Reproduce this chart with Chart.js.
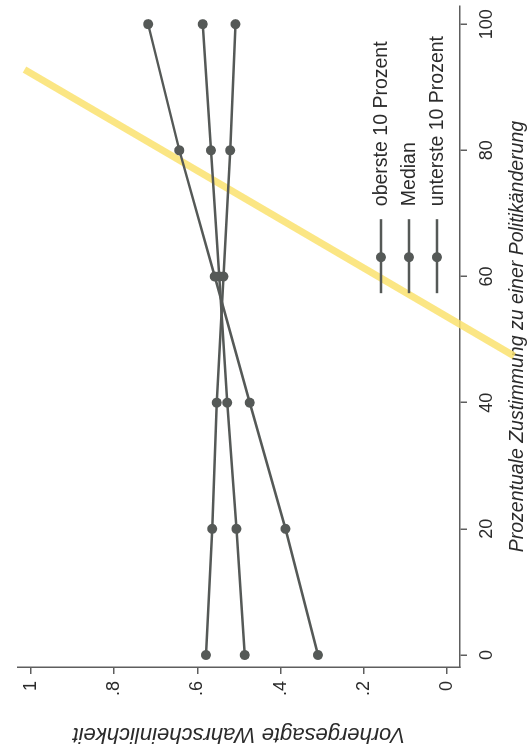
<!DOCTYPE html>
<html>
<head>
<meta charset="utf-8">
<title>Vorhergesagte Wahrscheinlichkeit</title>
<script src="https://cdn.jsdelivr.net/npm/chart.js@4.4.1/dist/chart.umd.min.js"></script>
<style>
  html, body { margin: 0; padding: 0; background: #fff; overflow: hidden; }
  /* the scanned page is turned a quarter to the left */
  #turn { position: absolute; left: 0; top: 0; width: 751px; height: 529px;
          transform-origin: 0 0; transform: translateY(751px) rotate(-90deg); }
</style>
</head>
<body>
<div id="turn"><canvas id="myChart" width="751" height="529"></canvas></div>
<script>
// data
var zustimmung = [0, 20, 40, 60, 80, 100];
var oberste    = [0.310, 0.388, 0.474, 0.558, 0.643, 0.718];
var median     = [0.486, 0.506, 0.528, 0.547, 0.567, 0.587];
var unterste   = [0.579, 0.564, 0.553, 0.537, 0.521, 0.508];
var serien     = ["oberste 10 Prozent", "Median", "unterste 10 Prozent"];
var xTicks     = [0, 20, 40, 60, 80, 100];
var yTicks     = [0, 0.2, 0.4, 0.6, 0.8, 1];
// yellow highlighter stroke on the scanned page
var markPct    = [92.8, 47.4];
var markProb   = [1.015, -0.161];

var grey = "#555957";
var axisGrey = "#5e5e5e";
var textGrey = "#2b2b2b";
var font = "'Liberation Sans', Arial, sans-serif";

function pts(xs, ys){
  return xs.map(function(x, i){ return {x: x, y: ys[i]}; });
}

function serie(label, values){
  return {
    label: label,
    data: pts(zustimmung, values),
    borderColor: grey,
    backgroundColor: grey,
    borderWidth: 2.5,
    pointRadius: 5,
    pointHoverRadius: 5,
    pointBorderWidth: 0
  };
}

//legend inside the plot, Stata style
var stataLegend = {
  id: "stataLegend",
  afterDraw: function(chart){
    var ctx = chart.ctx, a = chart.chartArea;
    ctx.save();
    chart.data.datasets.forEach(function(ds, i){
      if (ds.isMark) return;
      var y = a.bottom - 79 + i * 28;
      ctx.strokeStyle = ds.borderColor;
      ctx.lineWidth = ds.borderWidth;
      ctx.beginPath();
      ctx.moveTo(a.right - 287, y);
      ctx.lineTo(a.right - 213, y);
      ctx.stroke();
      ctx.fillStyle = ds.backgroundColor;
      ctx.beginPath();
      ctx.arc(a.right - 251, y, ds.pointRadius, 0, Math.PI * 2);
      ctx.fill();
      ctx.fillStyle = textGrey;
      ctx.font = "19.5px " + font;
      ctx.textAlign = "left";
      ctx.textBaseline = "middle";
      ctx.fillText(ds.label, a.right - 200, y + 1);
    });
    ctx.restore();
  }
};

var chartData = {
  datasets: [
    serie(serien[0], oberste),
    serie(serien[1], median),
    serie(serien[2], unterste),
    {
      label: "",
      isMark: true,
      data: pts(markPct, markProb),
      borderColor: "rgba(250, 226, 110, 0.85)",
      borderWidth: 7,
      pointRadius: 0,
      pointHoverRadius: 0,
      clip: false
    }
  ]
};

var ctx = document.getElementById("myChart").getContext("2d");
var myChart = new Chart(ctx, {
  type: "line",
  data: chartData,
  plugins: [stataLegend],
  options: {
    responsive: false,
    animation: false,
    events: [],
    layout: { padding: { top: 10, right: 5, left: 0, bottom: 0 } },
    plugins: { legend: { display: false }, tooltip: { enabled: false } },
    scales: {
      x: {
        type: "linear",
        min: -1.9,
        max: 102.85,
        afterBuildTicks: function(s){ s.ticks = xTicks.map(function(v){ return {value: v}; }); },
        afterFit: function(s){ s.height = 69; },
        grid: { drawOnChartArea: false, tickLength: 7, color: axisGrey, lineWidth: 1.5 },
        border: { color: axisGrey, width: 1.5 },
        ticks: { color: textGrey, font: { family: font, size: 18 }, padding: 9,
                 maxRotation: 0, autoSkip: false },
        title: { display: true, text: "Prozentuale Zustimmung zu einer Politikänderung",
                 color: textGrey, font: { family: font, size: 19.5, style: "italic" },
                 padding: { top: 0, bottom: 0 } }
      },
      y: {
        min: -0.031,
        max: 1.031,
        afterBuildTicks: function(s){ s.ticks = yTicks.map(function(v){ return {value: v}; }); },
        afterFit: function(s){ s.width = 84; },
        grid: { drawOnChartArea: false, tickLength: 7, color: axisGrey, lineWidth: 1.5 },
        border: { color: axisGrey, width: 1.5 },
        ticks: {
          color: textGrey, font: { family: font, size: 18 }, padding: 7,
          callback: function(v){
            if (v === 0 || v === 1) return String(v);
            return v.toFixed(1).replace(/^0/, "");
          }
        },
        title: { display: true, text: "Vorhergesagte Wahrscheinlichkeit",
                 color: textGrey, font: { family: font, size: 22, style: "italic" },
                 padding: { top: 4, bottom: 0 } }
      }
    }
  }
});
</script>
</body>
</html>
